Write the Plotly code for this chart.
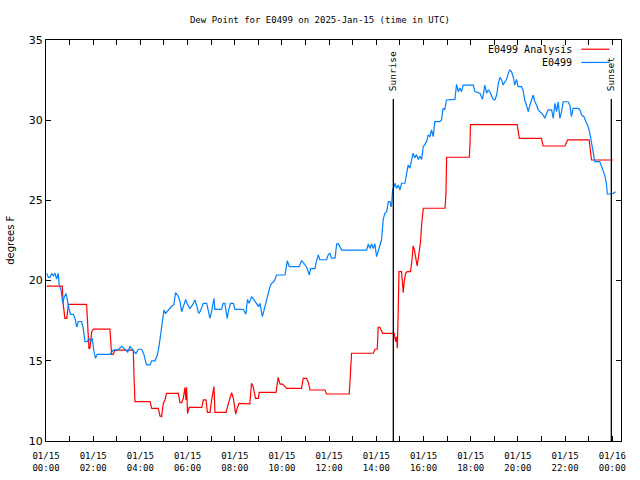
import plotly.graph_objects as go

# ---------------- data (hours since 2025-01-15 00:00 UTC, deg F) ----------------
obs_hours = [0.03,0.10,0.17,0.24,0.31,0.38,0.45,0.52,0.56,0.64,0.71,0.78,0.85,0.92,0.98,1.04,1.16,1.23,1.30,1.37,
             1.51,1.58,1.65,1.75,1.82,1.89,1.96,2.03,2.10,2.17,2.71,2.85,3.06,3.21,3.35,3.46,3.56,3.67,3.81,3.91,
             4.05,4.15,4.22,4.26,4.41,4.48,4.62,4.72,4.79,4.86,4.93,5.00,5.07,5.18,5.32,5.42,5.49,5.60,5.68,5.75,
             5.82,5.92,6.00,6.10,6.22,6.31,6.38,6.47,
             6.53,6.67,6.81,6.95,7.02,7.12,7.16,7.44,7.51,7.58,7.68,7.73,7.82,7.94,8.01,8.36,8.47,8.54,8.61,8.71,
             8.86,9.00,9.07,9.17,9.25,9.35,9.42,9.49,9.56,9.63,9.70,9.77,10.13,10.23,10.31,10.73,10.83,10.97,11.07,11.16,
             11.21,11.40,11.47,11.54,11.61,11.89,11.96,12.03,12.10,12.25,12.32,12.39,12.46,12.53,13.59,13.66,13.73,13.80,13.87,13.94,
             14.01,14.08,14.15,14.22,
             14.29,14.36,14.44,14.51,14.58,14.62,14.65,14.69,14.75,14.79,14.86,14.93,15.00,15.07,15.21,15.28,15.35,15.42,15.49,15.56,
             15.63,15.70,15.78,15.85,15.92,15.99,16.13,16.20,16.27,16.34,16.41,16.48,16.69,16.76,16.83,16.90,16.97,17.33,17.40,17.47,
             17.54,17.61,17.68,18.11,18.18,18.39,18.50,18.60,18.67,18.74,18.81,18.88,18.95,19.02,19.10,19.17,19.24,19.31,19.38,19.45,
             19.52,19.59,19.66,19.73,19.80,19.87,19.94,20.01,20.15,20.22,20.29,20.36,20.44,20.51,20.58,20.65,20.72,20.79,20.86,20.93,
             21.00,21.07,21.14,21.21,21.28,21.43,21.50,21.57,21.64,21.71,21.78,21.85,21.92,22.13,22.20,22.27,22.34,22.55,22.63,22.70,
             22.80,22.91,22.98,23.05,23.12,23.19,23.26,23.47,23.54,23.61,23.68,23.75,23.79,23.90,24.04,24.14]
obs_dewpt = [20.45,20.2,20.2,20.45,20.3,20.45,20.1,20.45,19.7,19.4,18.6,19.0,19.2,18.5,18.2,17.9,17.9,17.65,17.1,17.45,
             17.45,17.0,16.2,16.2,16.4,16.2,16.4,15.6,15.15,15.4,15.4,15.67,15.7,15.9,15.72,15.55,15.88,15.7,15.45,15.72,
             15.72,15.4,15.05,14.74,14.74,15.0,15.0,15.36,15.9,16.7,17.45,18.17,17.96,18.17,18.4,18.5,19.25,19.04,18.69,18.06,
             18.42,18.83,18.5,18.27,18.5,18.79,18.48,17.96,
             18.06,18.58,18.58,17.65,18.1,18.9,18.21,18.21,18.58,18.58,17.65,18.1,18.58,18.58,18.21,18.21,17.9,18.83,18.58,19.0,
             18.7,18.4,18.58,17.75,18.2,18.8,19.31,19.6,19.83,19.9,20.05,20.35,20.35,21.24,20.87,20.87,21.24,21.0,20.75,20.35,
             20.75,20.75,21.24,21.6,21.3,21.3,21.6,21.7,21.4,21.4,22.28,22.3,22.1,21.9,21.9,22.28,22.0,22.28,22.0,22.3,
             21.49,21.9,22.2,22.53,
             23.78,24.2,24.3,24.92,24.92,24.6,24.71,25.65,25.85,26.07,25.75,25.96,25.65,26.07,26.07,26.79,27.21,27.0,27.4,27.94,
             27.65,27.85,27.55,27.75,27.55,28.35,28.66,29.08,28.98,29.39,28.98,29.91,29.91,30.0,30.74,30.64,31.26,31.3,32.24,31.78,
             32.0,31.78,32.19,32.19,31.78,31.68,31.3,32.19,31.68,31.88,31.78,31.57,31.3,31.26,31.57,32.3,32.67,32.5,32.19,32.4,
             32.55,32.92,33.13,33.03,32.71,32.19,32.55,32.09,32.09,31.88,31.26,30.95,30.53,30.95,31.26,31.57,31.15,30.95,30.64,30.53,
             30.43,30.33,30.12,30.33,30.64,30.64,30.12,31.05,30.53,31.15,30.12,30.53,31.15,31.15,30.95,30.22,30.74,30.74,30.64,30.33,
             30.22,29.81,29.6,29.18,28.56,27.83,27.42,27.42,27.1,26.79,26.58,26.07,25.4,25.4,25.44,25.54]

ana_hours = [0.03,0.69,0.73,0.80,0.88,0.95,1.72,1.75,1.79,1.82,1.86,1.94,2.01,2.71,2.78,2.85,2.92,3.70,3.73,3.77,
             4.41,4.48,4.76,4.83,4.90,4.97,5.04,5.11,5.61,5.68,5.75,5.82,5.89,5.93,5.96,6.00,6.07,6.60,6.67,6.78,
             6.84,6.95,7.02,7.09,7.12,7.16,7.63,7.73,7.80,7.87,7.94,7.98,8.04,8.08,8.18,8.64,8.67,8.71,8.78,8.88,
             9.00,9.04,9.75,9.80,9.84,9.92,10.03,10.13,10.20,10.83,10.90,11.04,11.12,11.19,11.82,11.89,12.85,12.88,12.95,13.87,
             13.94,14.04,14.08,14.15,14.22,14.27,14.76,14.82,14.86,14.89,14.93,14.96,15.07,15.11,15.14,15.18,15.24,15.31,15.45,15.52,
             15.56,15.61,15.68,15.73,15.78,15.82,15.88,15.92,15.95,15.99,16.91,16.95,16.98,17.94,17.97,17.99,19.97,20.01,20.06,21.00,
             21.05,21.07,21.99,22.06,22.11,23.02,23.05,23.12,24.04]
ana_dewpt = [19.66,19.66,18.52,17.65,17.65,18.52,18.52,17.86,16.5,15.78,15.78,16.82,16.98,16.98,15.4,15.4,15.67,15.67,14.05,12.45,
             12.45,12.03,12.03,11.56,11.52,12.34,12.56,12.97,12.97,12.39,12.39,12.66,13.35,12.56,13.35,11.72,12.1,12.1,12.56,12.56,
             11.79,11.79,12.56,13.18,13.39,11.79,11.79,12.35,12.66,13.01,12.66,12.14,11.68,11.93,12.35,12.31,12.76,13.6,13.39,12.66,
             12.66,13.03,13.03,13.49,13.97,13.55,13.55,13.39,13.28,13.28,13.91,13.91,13.64,13.18,13.18,12.93,12.93,13.6,15.47,15.47,
             15.72,15.72,17.09,17.09,16.92,16.71,16.71,16.19,16.5,15.78,18.17,20.56,20.56,19.93,19.25,19.93,20.45,20.56,20.56,21.39,
             22.16,21.95,21.39,20.91,21.39,21.91,22.5,23.5,24.2,24.51,24.51,25.34,27.69,27.69,28.5,29.72,29.72,29.3,28.87,28.87,
             28.6,28.39,28.39,28.6,28.77,28.77,28.3,27.52,27.52]

sunrise_hour = 14.72
sunset_hour = 23.96

tick_hours = list(range(0, 25, 2))
tick_dates = ["01/15"] * 12 + ["01/16"]
tick_times = ["%02d:00" % (h % 24) for h in range(0, 25, 2)]
y_ticks = [10, 15, 20, 25, 30, 35]

title_text = "Dew Point for E0499 on 2025-Jan-15 (time in UTC)"
series_names = ["E0499 Analysis", "E0499"]
series_colors = ["#ff0000", "#0080ff"]

# ---------------- figure ----------------
MONO = "DejaVu Sans Mono"
SANS = "DejaVu Sans"

fig = go.Figure()
fig.add_trace(go.Scatter(x=ana_hours, y=ana_dewpt, mode="lines", name=series_names[0],
                         line=dict(color=series_colors[0], width=1.2), showlegend=False))
fig.add_trace(go.Scatter(x=obs_hours, y=obs_dewpt, mode="lines", name=series_names[1], xaxis="x2",
                         line=dict(color=series_colors[1], width=1.2), showlegend=False))

# sunrise / sunset markers
for hr, label in [(sunrise_hour, "Sunrise"), (sunset_hour, "Sunset")]:
    fig.add_shape(type="line", xref="x", yref="paper", x0=hr, x1=hr, y0=0, y1=0.853,
                  line=dict(color="black", width=1.3))
    fig.add_annotation(x=hr, y=0.868, xref="x", yref="paper", text=label, textangle=-90,
                       showarrow=False, xanchor="center", yanchor="bottom",
                       font=dict(family=MONO, size=9.5, color="black"))

# legend drawn gnuplot style (text left of sample line)
leg_y = [0.977, 0.944]
for name, col, yy in zip(series_names, series_colors, leg_y):
    fig.add_annotation(x=0.918, y=yy, xref="paper", yref="paper", text=name, showarrow=False,
                       xanchor="right", yanchor="middle", font=dict(family=MONO, size=10, color="black"))
    fig.add_shape(type="line", xref="paper", yref="paper", x0=0.931, x1=0.980, y0=yy, y1=yy,
                  line=dict(color=col, width=1.2))

# y axis title
fig.add_annotation(x=-0.062, y=0.5, xref="paper", yref="paper", text="degrees F", textangle=-90,
                   showarrow=False, xanchor="center", yanchor="middle",
                   font=dict(family=SANS, size=10, color="black"))

fig.update_layout(
    width=640, height=480,
    margin=dict(l=46, r=19, t=40, b=39, autoexpand=False),
    paper_bgcolor="white", plot_bgcolor="white",
    title=dict(text=title_text, x=0.5, xanchor="center", y=1 - 20 / 480, yanchor="middle",
               font=dict(family=MONO, size=9, color="black")),
    showlegend=False,
)
fig.update_layout(
    xaxis=dict(range=[0, 24.37], tickmode="array", tickvals=tick_hours, ticktext=tick_dates,
               ticks="inside", ticklen=5, tickcolor="black", showline=True, linecolor="black", linewidth=1,
               mirror="ticks", showgrid=False, zeroline=False, ticklabelstandoff=6, automargin=False,
               tickfont=dict(family=MONO, size=9, color="black"),
               minor=dict(tickvals=list(range(1, 24, 2)), ticks="inside", ticklen=5, tickcolor="black")),
    xaxis2=dict(range=[0, 24.37], matches="x", overlaying="x", side="bottom", anchor="y",
                tickmode="array", tickvals=tick_hours, ticktext=tick_times, ticks="",
                showline=False, showgrid=False, zeroline=False, ticklabelstandoff=20, automargin=False,
                tickfont=dict(family=MONO, size=9, color="black")),
    yaxis=dict(range=[10, 35], tickmode="array", tickvals=y_ticks, automargin=False,
               ticks="inside", ticklen=5, tickcolor="black", showline=True, linecolor="black", linewidth=1,
               mirror="ticks", showgrid=False, zeroline=False,
               tickfont=dict(family=SANS, size=11, color="black")),
)

fig.write_html("out.html")
